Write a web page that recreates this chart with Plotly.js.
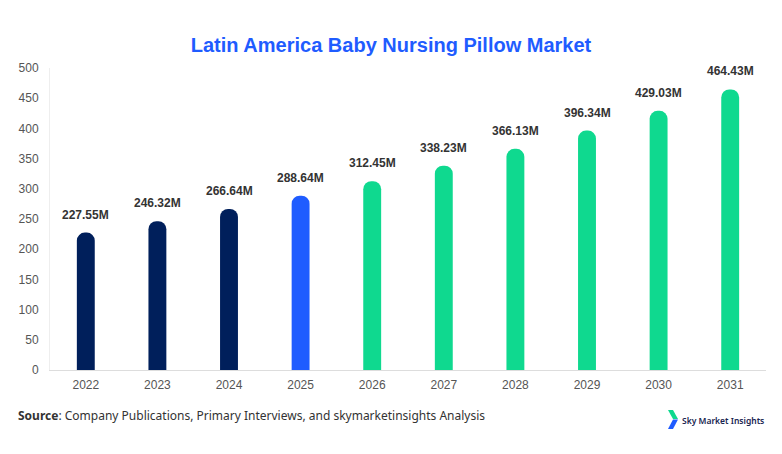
<!DOCTYPE html>
<html>
<head>
<meta charset="utf-8">
<script src="https://cdn.plot.ly/plotly-3.0.1.min.js"></script>
<style>html,body{margin:0;padding:0;background:#fff;}#chart{width:782px;height:454px;}</style>
</head>
<body>
<div id="chart"></div>
<script>
var years = ['2022','2023','2024','2025','2026','2027','2028','2029','2030','2031'];
var values = [227.55, 246.32, 266.64, 288.64, 312.45, 338.23, 366.13, 396.34, 429.03, 464.43];
var labels = ['227.55M','246.32M','266.64M','288.64M','312.45M','338.23M','366.13M','396.34M','429.03M','464.43M'];
var barColors = ['#001f5b','#001f5b','#001f5b','#1f5cff','#0fd98f','#0fd98f','#0fd98f','#0fd98f','#0fd98f','#0fd98f'];
var yTicks = [0,50,100,150,200,250,300,350,400,450,500];

var idx = years.map(function(_, i){ return i; });

var W = 782, H = 454, L = 50, R = 16, T = 68, B = 84;
function px(x){ return (x - L) / (W - L - R); }
function py(y){ return (H - B - y) / (H - T - B); }
function poly(pts){ return 'M' + pts.map(function(p){ return px(p[0]).toFixed(5) + ',' + py(p[1]).toFixed(5); }).join(' L') + ' Z'; }

var annotations = idx.map(function(i){
  return {x: i, y: values[i], xref: 'x', yref: 'y', text: labels[i], showarrow: false,
    yanchor: 'bottom', yshift: 9, font: {family: 'Liberation Sans, Arial, sans-serif', size: 12, color: '#333333', weight: 'bold'}};
});
annotations.push({xref: 'paper', yref: 'paper', x: px(16), y: py(415), xanchor: 'left', yanchor: 'middle', showarrow: false,
  text: '<b>Source</b>: Company Publications, Primary Interviews, and skymarketinsights Analysis',
  font: {family: 'Noto Sans, Open Sans, sans-serif', size: 12, color: '#333333'}});
annotations.push({xref: 'paper', yref: 'paper', x: px(680), y: py(420), xanchor: 'left', yanchor: 'middle', showarrow: false,
  text: 'Sky Market Insights', font: {family: 'Noto Sans, sans-serif', size: 8.5, color: '#18244f', weight: 600}});

var shapes = [
  {type: 'path', xref: 'paper', yref: 'paper', path: poly([[668,410],[673,410],[678,419],[673,419]]), fillcolor: '#0fd98f', line: {width: 0}},
  {type: 'path', xref: 'paper', yref: 'paper', path: poly([[673,419.5],[678,419.5],[673,429],[668,429]]), fillcolor: '#1f5cff', line: {width: 0}}
];

var trace = {type: 'bar', x: idx, y: values, marker: {color: barColors, cornerradius: '50%'},
  width: 0.25, hoverinfo: 'x+y'};

var layout = {
  width: W, height: H,
  margin: {l: L, r: R, t: T, b: B, pad: 0},
  paper_bgcolor: '#ffffff', plot_bgcolor: '#ffffff',
  title: {text: 'Latin America Baby Nursing Pillow Market', x: 0.5, xanchor: 'center', y: 1 - 45/H, yanchor: 'middle', yref: 'container',
    font: {family: 'Liberation Sans, Arial, sans-serif', size: 20, color: '#1f5cff', weight: 'bold'}},
  xaxis: {range: [-0.5, 9.5], tickvals: idx, ticktext: years, showgrid: false, showline: true, linecolor: '#dddddd', linewidth: 1, ticks: '', zeroline: false,
    tickfont: {family: 'Liberation Sans, Arial, sans-serif', size: 12, color: '#555555'}, ticklabelstandoff: 4},
  yaxis: {range: [0, 500], tickvals: yTicks, showgrid: false, showline: true, linecolor: '#eeeeee', linewidth: 1, ticks: '', zeroline: false,
    tickfont: {family: 'Liberation Sans, Arial, sans-serif', size: 12, color: '#555555'}, ticklabelstandoff: 8},
  showlegend: false,
  annotations: annotations,
  shapes: shapes
};

Plotly.newPlot('chart', [trace], layout, {displayModeBar: false, staticPlot: true});
</script>
</body>
</html>
